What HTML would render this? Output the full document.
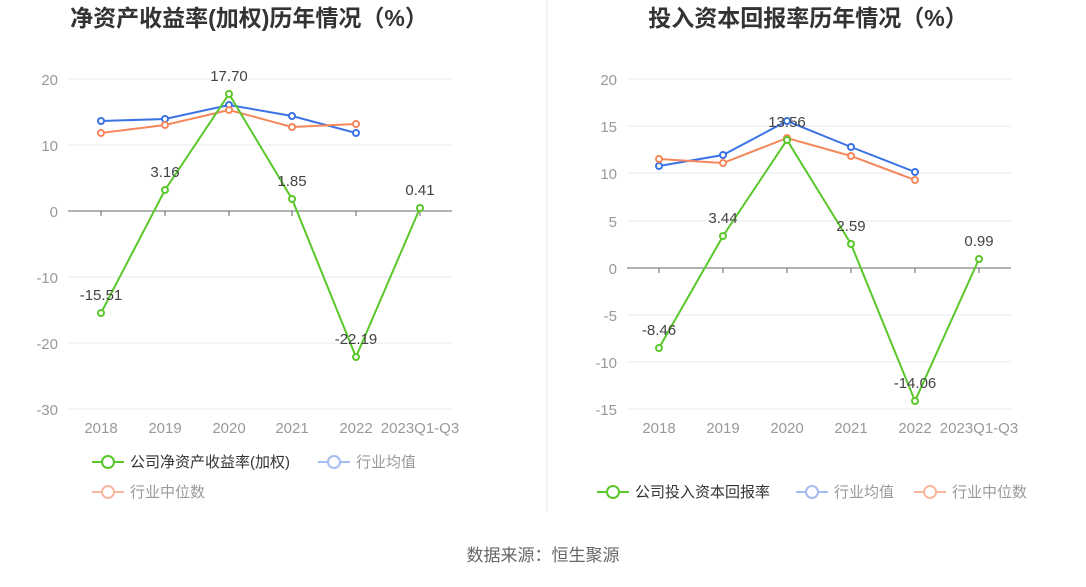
<!DOCTYPE html>
<html><head><meta charset="utf-8"><style>
body{margin:0;background:#fff;width:1086px;height:582px;overflow:hidden}
svg{font-family:"Liberation Sans","Noto Sans CJK SC",sans-serif}
</style></head><body>
<svg width="1086" height="582" viewBox="0 0 1086 582">
<line x1="547" y1="0" x2="547" y2="512" stroke="#e8e8e8"/>
<text x="249" y="26" font-size="23" font-weight="bold" fill="#333" text-anchor="middle">净资产收益率(加权)历年情况（%）</text>
<text x="808" y="26" font-size="23" font-weight="bold" fill="#333" text-anchor="middle">投入资本回报率历年情况（%）</text>
<g stroke="#e6e9f0" stroke-width="1">
<line x1="68" x2="452" y1="79" y2="79"/><line x1="68" x2="452" y1="145" y2="145"/><line x1="68" x2="452" y1="277" y2="277"/><line x1="68" x2="452" y1="343" y2="343"/><line x1="68" x2="452" y1="409" y2="409"/>
<line x1="627" x2="1011" y1="79" y2="79"/><line x1="627" x2="1011" y1="126" y2="126"/><line x1="627" x2="1011" y1="173" y2="173"/><line x1="627" x2="1011" y1="221" y2="221"/><line x1="627" x2="1011" y1="315" y2="315"/><line x1="627" x2="1011" y1="362" y2="362"/><line x1="627" x2="1011" y1="409" y2="409"/>
</g>
<g stroke="#666"><line x1="68" x2="452" y1="211" y2="211"/><line x1="627" x2="1011" y1="268" y2="268"/>
<line x1="101" x2="101" y1="211" y2="216"/><line x1="165" x2="165" y1="211" y2="216"/><line x1="229" x2="229" y1="211" y2="216"/><line x1="292" x2="292" y1="211" y2="216"/><line x1="356" x2="356" y1="211" y2="216"/><line x1="420" x2="420" y1="211" y2="216"/>
<line x1="659" x2="659" y1="268" y2="273"/><line x1="723" x2="723" y1="268" y2="273"/><line x1="787" x2="787" y1="268" y2="273"/><line x1="851" x2="851" y1="268" y2="273"/><line x1="915" x2="915" y1="268" y2="273"/><line x1="979" x2="979" y1="268" y2="273"/>
</g>
<g font-size="15" fill="#999" text-anchor="end">
<text x="58" y="85">20</text><text x="58" y="151">10</text><text x="58" y="217">0</text><text x="58" y="283">-10</text><text x="58" y="349">-20</text><text x="58" y="415">-30</text>
<text x="617" y="85">20</text><text x="617" y="132">15</text><text x="617" y="179">10</text><text x="617" y="227">5</text><text x="617" y="274">0</text><text x="617" y="321">-5</text><text x="617" y="368">-10</text><text x="617" y="415">-15</text>
</g>
<g font-size="15" fill="#999" text-anchor="middle">
<text x="101" y="433">2018</text><text x="165" y="433">2019</text><text x="229" y="433">2020</text><text x="292" y="433">2021</text><text x="356" y="433">2022</text><text x="420" y="433">2023Q1-Q3</text>
<text x="659" y="433">2018</text><text x="723" y="433">2019</text><text x="787" y="433">2020</text><text x="851" y="433">2021</text><text x="915" y="433">2022</text><text x="979" y="433">2023Q1-Q3</text>
</g>
<g fill="#fff" stroke-width="2">
<polyline points="101,121 165,119 229,105 292,116 356,133" fill="none" stroke="#3b73e6"/>
<polyline points="101,133 165,125 229,110 292,127 356,124" fill="none" stroke="#f5875a"/>
<polyline points="101,313 165,190 229,94 292,199 356,357 420,208" fill="none" stroke="#5ac72a"/>
<polyline points="659,166 723,155 787,121 851,147 915,172" fill="none" stroke="#3b73e6"/>
<polyline points="659,159 723,163 787,138 851,156 915,180" fill="none" stroke="#f5875a"/>
<polyline points="659,348 723,236 787,140 851,244 915,401 979,259" fill="none" stroke="#5ac72a"/>
<g stroke="#3b73e6"><circle cx="101" cy="121" r="3"/><circle cx="165" cy="119" r="3"/><circle cx="229" cy="105" r="3"/><circle cx="292" cy="116" r="3"/><circle cx="356" cy="133" r="3"/>
<circle cx="659" cy="166" r="3"/><circle cx="723" cy="155" r="3"/><circle cx="787" cy="121" r="3"/><circle cx="851" cy="147" r="3"/><circle cx="915" cy="172" r="3"/></g>
<g stroke="#f5875a"><circle cx="101" cy="133" r="3"/><circle cx="165" cy="125" r="3"/><circle cx="229" cy="110" r="3"/><circle cx="292" cy="127" r="3"/><circle cx="356" cy="124" r="3"/>
<circle cx="659" cy="159" r="3"/><circle cx="723" cy="163" r="3"/><circle cx="787" cy="138" r="3"/><circle cx="851" cy="156" r="3"/><circle cx="915" cy="180" r="3"/></g>
<g stroke="#5ac72a"><circle cx="101" cy="313" r="3"/><circle cx="165" cy="190" r="3"/><circle cx="229" cy="94" r="3"/><circle cx="292" cy="199" r="3"/><circle cx="356" cy="357" r="3"/><circle cx="420" cy="208" r="3"/>
<circle cx="659" cy="348" r="3"/><circle cx="723" cy="236" r="3"/><circle cx="787" cy="140" r="3"/><circle cx="851" cy="244" r="3"/><circle cx="915" cy="401" r="3"/><circle cx="979" cy="259" r="3"/></g>
</g>
<g font-size="15" fill="#444" text-anchor="middle">
<text x="101" y="300">-15.51</text><text x="165" y="177">3.16</text><text x="229" y="81">17.70</text><text x="292" y="186">1.85</text><text x="356" y="344">-22.19</text><text x="420" y="195">0.41</text>
<text x="659" y="335">-8.46</text><text x="723" y="223">3.44</text><text x="787" y="127">13.56</text><text x="851" y="231">2.59</text><text x="915" y="388">-14.06</text><text x="979" y="246">0.99</text>
</g>
<g stroke-width="2" fill="#fff">
<line x1="92" x2="124" y1="462" y2="462" stroke="#5ac72a"/><circle cx="108" cy="462" r="6" stroke="#5ac72a"/>
<line x1="318" x2="350" y1="462" y2="462" stroke="#a4bdf2"/><circle cx="334" cy="462" r="6" stroke="#a4bdf2"/>
<line x1="92" x2="124" y1="492" y2="492" stroke="#f8b89d"/><circle cx="108" cy="492" r="6" stroke="#f8b89d"/>
<line x1="597" x2="629" y1="492" y2="492" stroke="#5ac72a"/><circle cx="613" cy="492" r="6" stroke="#5ac72a"/>
<line x1="796" x2="828" y1="492" y2="492" stroke="#a4bdf2"/><circle cx="812" cy="492" r="6" stroke="#a4bdf2"/>
<line x1="914" x2="946" y1="492" y2="492" stroke="#f8b89d"/><circle cx="930" cy="492" r="6" stroke="#f8b89d"/>
</g>
<g font-size="15">
<text x="130" y="467" fill="#333">公司净资产收益率(加权)</text><text x="356" y="467" fill="#999">行业均值</text>
<text x="130" y="497" fill="#999">行业中位数</text>
<text x="635" y="497" fill="#333">公司投入资本回报率</text><text x="834" y="497" fill="#999">行业均值</text><text x="952" y="497" fill="#999">行业中位数</text>
</g>
<text x="543" y="561" font-size="17" fill="#666" text-anchor="middle">数据来源：恒生聚源</text>
</svg>
</body></html>
